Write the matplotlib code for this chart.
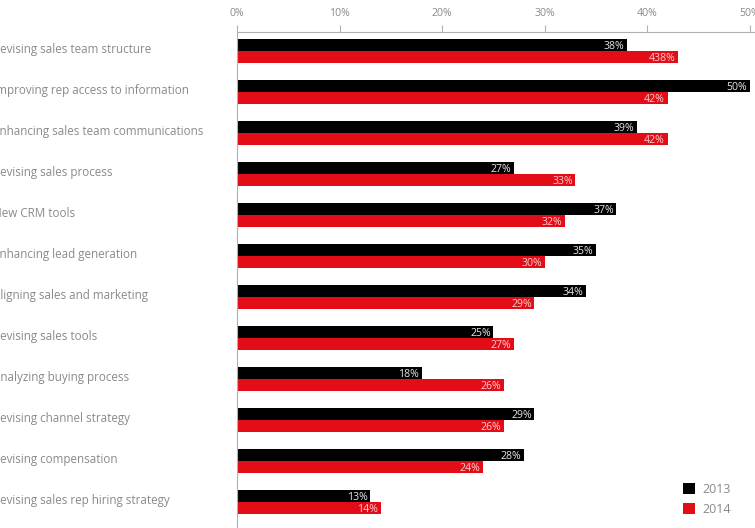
import matplotlib.pyplot as plt
import numpy as np

# data
categories = ['Revising sales team structure', 'Improving rep access to information',
              'Enhancing sales team communications', 'Revising sales process',
              'New CRM tools', 'Enhancing lead generation', 'Aligning sales and marketing',
              'Revising sales tools', 'Analyzing buying process', 'Revising channel strategy',
              'Revising compensation', 'Revising sales rep hiring strategy']
v2013 = [38, 50, 39, 27, 37, 35, 34, 25, 18, 29, 28, 13]
v2014 = [43, 42, 42, 33, 32, 30, 29, 27, 26, 26, 24, 14]
lab2013 = ['38%', '50%', '39%', '27%', '37%', '35%', '34%', '25%', '18%', '29%', '28%', '13%']
lab2014 = ['438%', '42%', '42%', '33%', '32%', '30%', '29%', '27%', '26%', '26%', '24%', '14%']
xticks = [0, 10, 20, 30, 40, 50]

plt.rcParams['font.family'] = ['Open Sans', 'DejaVu Sans']
grey = '#8a8a8a'
red = '#e30d18'

W, H = 755, 528
fig = plt.figure(figsize=(W / 100, H / 100), dpi=100)
ax = fig.add_axes([237 / W, 0, 1 - 237 / W, (H - 32) / H])

y = np.arange(len(categories))
h = 0.29
ax.barh(y - h / 2, v2013, height=h, color='black', label='2013')
ax.barh(y + h / 2, v2014, height=h, color=red, label='2014')

for i in range(len(categories)):
    ax.text(v2013[i] - 0.25, y[i] - h / 2, lab2013[i], color='#e6e6e6', fontsize=7.6,
            ha='right', va='center_baseline')
    ax.text(v2014[i] - 0.25, y[i] + h / 2, lab2014[i], color='#f8d0d0', fontsize=7.6,
            ha='right', va='center_baseline')
    # category labels start a few pixels left of the figure edge
    fig.text(-7 / W, 1 - (48 + 41 * i) / H, categories[i], color=grey, fontsize=8.4,
             ha='left', va='center_baseline')

ax.set_xlim(0, (W - 237) / 102.5 * 10)
ax.set_ylim((H - 502) / 41 + 11, -19 / 41)
ax.xaxis.tick_top()
ax.set_xticks(xticks)
ax.set_xticklabels([f'{t}%' for t in xticks])
ax.tick_params(axis='x', colors='#b0b0b0', labelcolor=grey, labelsize=7.6, length=5,
               width=0.8, pad=4)
ax.set_yticks([])
for s in ['right', 'bottom']:
    ax.spines[s].set_visible(False)
for s in ['top', 'left']:
    ax.spines[s].set_color('#b0b0b0')
    ax.spines[s].set_linewidth(0.8)

leg = ax.legend(loc='lower left', bbox_to_anchor=(683 / W, 12 / H),
                bbox_transform=fig.transFigure, frameon=False, borderpad=0,
                borderaxespad=0, fontsize=9, labelcolor=grey, handlelength=0.95,
                handleheight=0.95, handletextpad=0.6, labelspacing=0.55)

plt.savefig('out.png', dpi=100)
plt.close()
